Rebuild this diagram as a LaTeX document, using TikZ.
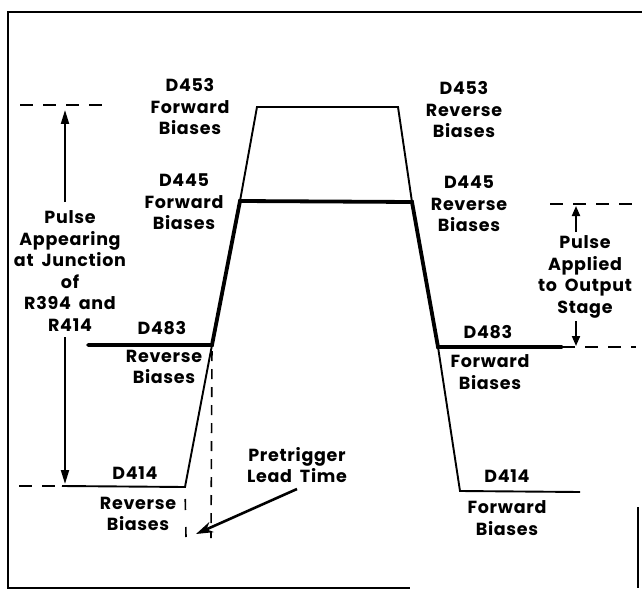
\documentclass[tikz,border=0pt]{standalone}
\usepackage{fontspec}
\setmainfont{Poppins}[LetterSpace=4, WordSpace=1.8]
\usepackage{tikz}
\usetikzlibrary{arrows.meta}
\tikzset{
    thinwave/.style={
        line width=1.9pt,
        black,
        line join=miter
    },
    % thick parts of the pulse
    thickwave/.style={
        line width=3.8pt,
        black,
        line cap=round
    },
    levelmark/.style={
        line width=1.6pt,
        dash pattern=on 13pt off 10pt
    },
    pulsearrow/.style={
        line width=1.9pt,
        -{Triangle[length=14pt, width=8pt]}
    },
    leadarrow/.style={
        line width=2.6pt,
        -{Stealth[length=17pt, width=11pt]}
    },
    lbl/.style={
        font=\fontsize{17.5}{21.5}\selectfont\bfseries,
        align=center,
        inner sep=0pt
    }
}

\begin{document}
\begin{tikzpicture}[x=1pt,y=-1pt]
	\useasboundingbox (0,0) rectangle (642,591);
	
	% frame
	\draw[line width=2pt] (642,12) -- (8,12) -- (8,588) -- (410,588);
	\draw[line width=2pt] (638,507) -- (638,588);
	
	\path
	(19,486) coordinate (l1)
	(62,486) coordinate (l2)
	(185,487) coordinate (p1)
	(212,345) coordinate (p2)
	(240,201) coordinate (p3)
	(257,107) coordinate (p4)
	(398,107) coordinate (p5)
	(412,202) coordinate (p6)
	(438,347) coordinate (p7)
	(460,491) coordinate (p8)
	(580,492) coordinate (p9)
	
	(88,345) coordinate (m1)
	(562,347) coordinate (m2)
	(636,347) coordinate (m3)
	(20,105) coordinate (t1)
	(106,105) coordinate (t2)
	(550,204) coordinate (t3)
	(636,204) coordinate (t4)
	(186,537) coordinate (q1)
	(211,538) coordinate (q2);
	
	% pulse
	\draw[thinwave] (l2) -- (p1) -- (p2) -- (p3) -- (p4) -- (p5) -- (p6) -- (p7) -- (p8) -- (p9);
	\draw[thickwave] (m1) -- (p2) -- (p3) -- (p6) -- (p7) -- (m2);
	
	% dashed levels
	\draw[levelmark] (t1) -- (t2);
	\draw[levelmark] (l1) -- (l2);
	\draw[levelmark] (t3) -- (t4);
	\draw[levelmark] (m2) -- (m3);
	\draw[levelmark,dash pattern=on 11pt off 17pt,dash phase=-12pt] (p1) -- (q1);
	\draw[levelmark,dash pattern=on 10pt off 8pt,dash phase=-6pt] (p2) -- (q2);
	
	% labels
	\node[lbl] (fwd453) at (190,107) {D453\\Forward\\Biases};
	\node[lbl] (rev453) at (464,110) {D453\\Reverse\\Biases};
	\node[lbl] (fwd445) at (184,202) {D445\\Forward\\Biases};
	\node[lbl] (rev445) at (469,204) {D445\\Reverse\\Biases};
	\node[lbl] (d483l) at (162,328) {D483};
	\node[lbl] (rev483) at (164,367) {Reverse\\Biases};
	\node[lbl] (d483r) at (488,332) {D483};
	\node[lbl] (fwd483) at (490,372) {Forward\\Biases};
	\node[lbl] (d414l) at (135,473) {D414};
	\node[lbl] (rev414) at (138,514) {Reverse\\Biases};
	\node[lbl] (d414r) at (507,476) {D414};
	\node[lbl] (fwd414) at (507,518) {Forward\\Biases};
	\node[lbl] (junct) at (70,271) {Pulse\\Appearing\\at Junction\\of\\R394 and\\R414};
	\node[lbl] (output) at (585,277) {Pulse\\Applied\\to Output\\Stage};
	\node[lbl] (lead) at (297,465) {Pretrigger\\Lead Time};
	
	% arrows
	\path
	(65,202) coordinate (a1)
	(65,110) coordinate (a2)
	(65,337) coordinate (a3)
	(65,484) coordinate (a4)
	(576,232) coordinate (b1)
	(576,206) coordinate (b2)
	(576,321) coordinate (b3)
	(576,346) coordinate (b4)
	(297,489) coordinate (c1)
	(196,534) coordinate (c2);
	\draw[pulsearrow] (a1) -- (a2);
	\draw[pulsearrow] (a3) -- (a4);
	\draw[pulsearrow,-{Triangle[length=10pt, width=8pt]}] (b1) -- (b2);
	\draw[pulsearrow,-{Triangle[length=10pt, width=8pt]}] (b3) -- (b4);
	\draw[leadarrow] (c1) -- (c2);
\end{tikzpicture}
\end{document}
